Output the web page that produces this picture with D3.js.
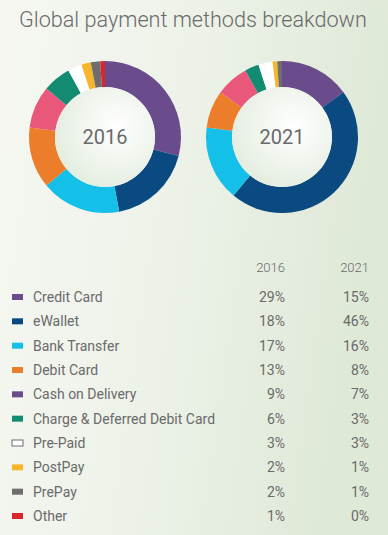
<!DOCTYPE html>
<html>
<head>
<meta charset="utf-8">
<script src="https://cdn.jsdelivr.net/npm/d3@7"></script>
<style>
  html, body { margin: 0; padding: 0; }
  body { width: 388px; height: 535px; overflow: hidden; }
  text { font-family: Roboto, "Liberation Sans", sans-serif; fill: #6a6a6a; }
</style>
</head>
<body>
<svg width="388" height="535"></svg>
<script>
var methods = ["Credit Card", "eWallet", "Bank Transfer", "Debit Card", "Cash on Delivery",
               "Charge & Deferred Debit Card", "Pre-Paid", "PostPay", "PrePay", "Other"];
var years = ["2016", "2021"];
var share2016 = [29, 18, 17, 13, 9, 6, 3, 2, 2, 1];
var share2021 = [15, 46, 16, 8, 7, 3, 3, 1, 1, 0];

var svg = d3.select("svg"),
    width = +svg.attr("width"),
    height = +svg.attr("height");

// slice colours, legend uses the same except cash on delivery (purple in the source)
var color = d3.scaleOrdinal()
    .domain(methods)
    .range(["#6a4c8c", "#0b4a80", "#14bfe8", "#ec7d2a", "#e9577b",
            "#138a72", "#ffffff", "#f6b52b", "#6e6e6e", "#d9262e"]);
var legendColor = function(m) { return m === "Cash on Delivery" ? "#6a4c8c" : color(m); };

var defs = svg.append("defs");
var bg = defs.append("linearGradient").attr("id", "bg")
    .attr("x1", 0).attr("y1", 0).attr("x2", 1).attr("y2", 0.2);
bg.append("stop").attr("offset", "0%").attr("stop-color", "#f6f7f2");
bg.append("stop").attr("offset", "45%").attr("stop-color", "#eef3ea");
bg.append("stop").attr("offset", "100%").attr("stop-color", "#dfe9d7");

var hole = defs.append("radialGradient").attr("id", "hole")
    .attr("cx", "62%").attr("cy", "40%").attr("r", "65%");
hole.append("stop").attr("offset", "0%").attr("stop-color", "#ffffff");
hole.append("stop").attr("offset", "100%").attr("stop-color", "#e4ede0");

svg.append("rect").attr("width", width).attr("height", height).attr("fill", "url(#bg)");

var title = svg.append("text")
    .attr("x", 19).attr("y", 27)
    .style("font-size", "24px").style("font-weight", 300)
    .text("Global payment methods breakdown");
// shrink the title so it spans the same width as the original
var tw = title.node().getComputedTextLength();
title.style("font-size", (24 * 348 / tw).toFixed(2) + "px");

// donuts
var pie = d3.pie().sort(null).value(function(d) { return d.value; });
var arc = d3.arc().innerRadius(50).outerRadius(76);

var x = d3.scalePoint().domain(years).range([105, 282]);
var series = { "2016": share2016, "2021": share2021 };

years.forEach(function(yr) {
  var g = svg.append("g").attr("transform", "translate(" + x(yr) + ",137)");
  var data = methods.map(function(m, i) { return { key: m, value: series[yr][i] }; });

  g.selectAll("path")
    .data(pie(data))
    .enter().append("path")
      .attr("d", arc)
      .attr("fill", function(d) { return color(d.data.key); });

  g.append("circle").attr("r", 50).attr("fill", "url(#hole)");

  g.append("text")
    .attr("text-anchor", "middle").attr("dy", "0.36em")
    .style("font-size", "20px")
    .text(yr);
});

// table
var y = d3.scalePoint().domain(methods).range([297, 516]);
var col = d3.scaleOrdinal().domain(years).range([285, 369]);

svg.selectAll(".hdr")
  .data(years)
  .enter().append("text")
    .attr("class", "hdr")
    .attr("x", function(d) { return col(d); })
    .attr("y", 272)
    .attr("text-anchor", "end")
    .style("font-size", "13px").style("font-weight", 300)
    .text(function(d) { return d; });

var row = svg.selectAll(".row")
  .data(methods)
  .enter().append("g")
    .attr("class", "row")
    .attr("transform", function(d) { return "translate(0," + y(d) + ")"; });

row.append("rect")
    .attr("x", 12).attr("y", -3).attr("width", 11).attr("height", 6)
    .attr("fill", legendColor)
    .attr("stroke", function(d) { return d === "Pre-Paid" ? "#6e6e6e" : "none"; })
    .attr("stroke-width", 1);

row.append("text")
    .attr("x", 33).attr("dy", "0.36em")
    .style("font-size", "14px")
    .text(function(d) { return d; });

years.forEach(function(yr) {
  row.append("text")
    .attr("x", col(yr)).attr("dy", "0.36em")
    .attr("text-anchor", "end")
    .style("font-size", "14px")
    .text(function(d, i) { return series[yr][i] + "%"; });
});
</script>
</body>
</html>
